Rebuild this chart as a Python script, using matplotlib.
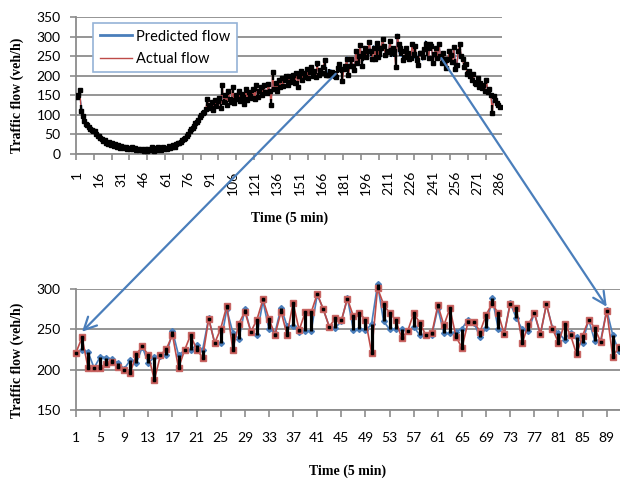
import matplotlib.pyplot as plt
from matplotlib.patches import ConnectionPatch
import numpy as np

# top chart, indices 1..166 (actual / predicted)
top_act_a = [145, 152, 163, 110, 96, 84, 76, 73, 70, 64, 62, 58, 60, 52, 47,
             46, 40, 38, 32, 35, 28, 26, 30, 22, 27, 20, 25, 18, 22, 16,
             21, 17, 15, 19, 14, 16, 12, 18, 13, 15, 11, 14, 9, 12, 10,
             8, 12, 7, 14, 9, 10, 18, 8, 15, 11, 19, 13, 10, 17, 12,
             16, 13, 20, 15, 18, 22, 19, 25, 27, 29, 31, 35, 38, 42, 47,
             52, 58, 63, 66, 72, 78, 82, 88, 95, 99, 104, 108, 115, 140, 118,
             124, 132, 112, 138, 122, 135, 142, 118, 175, 132, 150, 126, 162, 140, 132,
             172, 130, 152, 140, 160, 136, 154, 145, 128, 165, 138, 158, 148, 142, 166,
             140, 175, 146, 162, 170, 150, 176, 158, 155, 178, 162, 125, 210, 165, 182,
             162, 188, 170, 193, 174, 189, 198, 176, 200, 184, 195, 203, 182, 208, 172,
             198, 213, 188, 208, 196, 218, 194, 210, 222, 199, 213, 196, 232, 202, 214, 206]
top_pred_a = [140, 148, 150, 125, 100, 88, 78, 74, 70, 66, 62, 60, 58, 54, 49,
              45, 42, 38, 35, 33, 30, 28, 27, 25, 24, 22, 22, 20, 20, 18,
              18, 17, 16, 16, 15, 15, 14, 14, 13, 13, 12, 12, 11, 11, 10,
              10, 10, 9, 10, 10, 10, 12, 11, 12, 12, 13, 13, 13, 14, 14,
              15, 15, 16, 17, 18, 20, 21, 23, 26, 28, 31, 34, 38, 42, 46,
              51, 56, 61, 66, 71, 76, 81, 87, 93, 98, 103, 107, 112, 122, 120,
              122, 126, 123, 130, 128, 131, 136, 128, 150, 140, 144, 136, 150, 145, 140,
              155, 142, 148, 146, 152, 145, 150, 148, 138, 155, 146, 152, 150, 148, 157,
              148, 162, 155, 158, 163, 158, 167, 163, 160, 170, 165, 140, 190, 172, 178,
              172, 182, 176, 186, 180, 185, 191, 183, 194, 189, 192, 197, 190, 200, 186,
              195, 204, 195, 202, 200, 210, 200, 206, 214, 205, 209, 203, 222, 208, 211, 209]

# zoomed window (bottom chart), 91 intervals -> also top indices 167..257
zoom_act = [221, 240, 202, 202, 202, 207, 209, 203, 200, 196,
            219, 229, 218, 187, 218, 226, 243, 202, 224, 243,
            225, 215, 263, 233, 251, 279, 225, 257, 272, 247,
            262, 287, 263, 243, 272, 243, 283, 249, 271, 271,
            294, 275, 253, 264, 261, 288, 266, 270, 262, 221,
            301, 281, 270, 262, 239, 248, 270, 258, 243, 245,
            280, 255, 276, 241, 227, 259, 259, 247, 268, 282,
            270, 244, 282, 277, 233, 256, 270, 244, 281, 251,
            233, 257, 243, 219, 242, 262, 252, 234, 273, 216, 228]
zoom_pred = [221, 225, 222, 202, 216, 215, 213, 208, 201, 212,
             208, 228, 208, 216, 217, 218, 248, 218, 224, 225,
             230, 225, 264, 233, 233, 275, 246, 238, 275, 247,
             243, 285, 250, 246, 277, 254, 254, 247, 248, 248,
             293, 275, 253, 252, 260, 289, 249, 251, 249, 256,
             306, 260, 250, 250, 250, 248, 253, 243, 243, 243,
             276, 245, 245, 247, 251, 262, 258, 240, 252, 289,
             251, 244, 283, 264, 250, 248, 270, 244, 281, 252,
             246, 237, 246, 240, 233, 262, 236, 236, 274, 243, 223]

# top chart, indices 258..286
top_act_c = [262, 281, 250, 242, 221, 230, 205, 212, 200, 190, 205, 182, 178, 195, 172,
             182, 168, 175, 160, 190, 158, 165, 150, 105, 148, 138, 130, 125, 120]
top_pred_c = [255, 265, 255, 245, 232, 228, 212, 210, 203, 195, 200, 188, 182, 188, 176,
              178, 170, 172, 165, 180, 162, 163, 154, 125, 140, 136, 130, 126, 122]

top_act = np.array(top_act_a + zoom_act + top_act_c)
top_pred = np.array(top_pred_a + zoom_pred + top_pred_c)
zoom_act = np.array(zoom_act)
zoom_pred = np.array(zoom_pred)

top_xticks = list(range(1, 287, 15))
zoom_xticks = list(range(1, 90, 4))

BLUE = '#4a7ebb'
RED = '#be4b48'
GRID = '#8c8c8c'
TICKFONT = 'Lato'
LABELFONT = 'Liberation Serif'

fig = plt.figure(figsize=(6.2, 4.79), dpi=100)
ax1 = fig.add_axes([76/620, 1-154/479, 426/620, 137/479])
ax2 = fig.add_axes([76/620, 69/479, 544/620, 121/479])


def style_axis(ax):
    for s in ['top', 'right']:
        ax.spines[s].set_visible(False)
    for s in ['left', 'bottom']:
        ax.spines[s].set_color(GRID)
        ax.spines[s].set_linewidth(1.3)
    ax.grid(axis='y', color=GRID, lw=1.3)
    ax.set_axisbelow(True)
    ax.tick_params(axis='both', colors=GRID, labelcolor='black', labelsize=10,
                   width=1.2)
    ax.tick_params(axis='y', length=4, pad=7)
    for lab in ax.get_xticklabels() + ax.get_yticklabels():
        lab.set_family(TICKFONT)


# ---- top chart
x1 = np.arange(1, len(top_act) + 1)
ax1.plot(x1, top_pred, color=BLUE, lw=1, zorder=2, label='Predicted flow')
ax1.plot(x1, top_act, color=RED, lw=1, zorder=3, label='Actual flow')
ax1.vlines(x1, np.minimum(top_act, top_pred), np.maximum(top_act, top_pred),
           color='black', lw=1.7, zorder=4)
ax1.plot(x1, top_act, ls='none', marker='s', ms=2.3, color='black', zorder=5)
ax1.set_xlim(0.5, 287.5)
ax1.set_ylim(0, 350)
ax1.set_yticks(range(0, 351, 50))
ax1.set_xticks(top_xticks)
ax1.set_xticks(np.arange(0.5, 287, 12), minor=True)
ax1.tick_params(axis='x', which='major', length=0, pad=12, rotation=90)
ax1.tick_params(axis='x', which='minor', length=4, color=GRID, width=1.2)
style_axis(ax1)
ax1.tick_params(axis='x', which='major', length=0, pad=12)

leg = ax1.legend(loc='upper left', bbox_to_anchor=(0.04, 0.956), borderaxespad=0,
                 fancybox=False, framealpha=1, edgecolor='#95b3d7',
                 prop={'family': TICKFONT, 'size': 10.5}, handlelength=2.2,
                 labelspacing=0.55, handletextpad=0.3, borderpad=0.45)
leg.get_frame().set_linewidth(1.2)
leg.legend_handles[0].set_linewidth(2)

ax1.set_xlabel('Time (5 min)', family=LABELFONT, weight='bold', size=10, va='center')
ax1.xaxis.set_label_coords(0.502, -0.467)
ax1.set_ylabel('Traffic flow (veh/h)', family=LABELFONT, weight='bold', size=10, va='center')
ax1.yaxis.set_label_coords(-0.1385, 0.43)

# ---- bottom chart
x2 = np.arange(1, len(zoom_act) + 1)
ax2.plot(x2, zoom_pred, color=BLUE, lw=1.2, marker='D', ms=3, zorder=2, clip_on=False)
ax2.plot(x2, zoom_act, color=RED, lw=1.2, marker='s', ms=5, mfc='#c0504d',
         mec='#c86664', zorder=3, clip_on=False)
ax2.vlines(x2, np.minimum(zoom_act, zoom_pred), np.maximum(zoom_act, zoom_pred),
           color='black', lw=2.3, zorder=4, clip_on=False)
ax2.plot(x2, zoom_act, ls='none', marker='s', ms=1.6, color='black', zorder=5,
         clip_on=False)
ax2.set_xlim(1, 91.2)
ax2.set_ylim(150, 300)
ax2.set_yticks(range(150, 301, 50))
ax2.set_xticks(zoom_xticks)
style_axis(ax2)
ax2.tick_params(axis='x', length=5, pad=11)

ax2.set_xlabel('Time (5 min)', family=LABELFONT, weight='bold', size=10, va='center')
ax2.xaxis.set_label_coords(0.5, -0.504)
ax2.set_ylabel('Traffic flow (veh/h)', family=LABELFONT, weight='bold', size=10, va='center')
ax2.yaxis.set_label_coords(-0.108, 0.41)

# ---- arrows from the top chart to the zoomed window
for (xa, ya), (xb, yb) in [((175.5, 205), (2, 247)), ((246.6, 245), (89, 278))]:
    con = ConnectionPatch(xyA=(xa, ya), coordsA=ax1.transData,
                          xyB=(xb, yb), coordsB=ax2.transData,
                          arrowstyle='->,head_length=0.6,head_width=0.3',
                          mutation_scale=15, color=BLUE, lw=1.6, zorder=10)
    fig.add_artist(con)

fig.savefig('out.png', dpi=100)
